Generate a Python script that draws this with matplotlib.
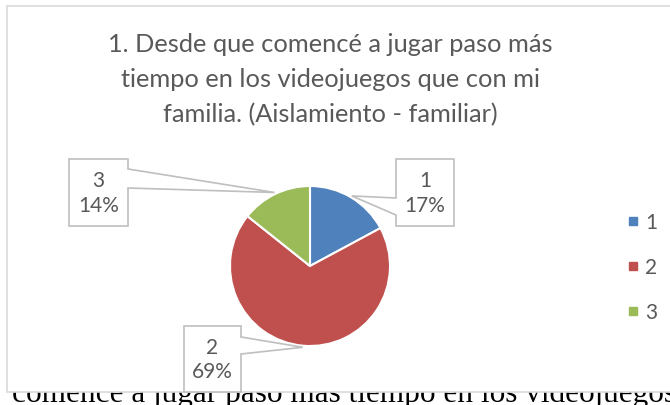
import matplotlib
matplotlib.use("Agg")
import matplotlib.pyplot as plt
import numpy as np
from matplotlib.patches import Rectangle, Polygon
from matplotlib.lines import Line2D

# data
categories = ["1", "2", "3"]
counts = [12, 48, 10]
pct_labels = ["17%", "69%", "14%"]
colors = ["#4F81BD", "#C0504D", "#9BBB59"]

title = ("1. Desde que comencé a jugar paso más\n"
         "tiempo en los videojuegos que con mi\n"
         "familia. (Aislamiento - familiar)")
below_text = "comencé a jugar paso más tiempo en los videojuegos"

W, H = 670, 406
fig = plt.figure(figsize=(W / 100, H / 100), dpi=100)
fig.patch.set_facecolor("white")

# document text sitting under the chart object (cut by the chart, as in the page)
fig.text(12 / W, 1 - 402 / H, below_text, family="Liberation Serif",
         fontsize=22.5, color="black", ha="left", va="baseline", zorder=0)

# chart area
fig.patches.append(Rectangle((7 / W, 1 - 393 / H), 1.2, (393 - 7) / H,
                             transform=fig.transFigure, facecolor="white",
                             edgecolor="#D9D9D9", linewidth=1.2, zorder=1))

fig.text(0.493, 1 - 33 / H, title, family="Lato", fontsize=18.3,
         color="#595959", ha="center", va="top", linespacing=1.62, zorder=3)

# pie axes: 80 px per data unit, centre at (310, 267) px
cx, cy, r_px = 310, 267, 80
ax = fig.add_axes([0, 0, 1, 1], zorder=2)
ax.patch.set_visible(False)
wedges, _ = ax.pie(counts, colors=colors, startangle=90, counterclock=False,
                   radius=1, wedgeprops=dict(edgecolor="white", linewidth=1.5))
ax.set_xlim(-cx / r_px, (W - cx) / r_px)
ax.set_ylim(-(H - cy) / r_px, cy / r_px)
ax.axis("off")

# callout boxes (x0, x1, y_top, y_bot, side, wedge y top, wedge y bottom)
boxes = [
    (1.075, 1.80, 1.3375, 0.50, "left", 0.85, 0.6375),
    (-1.575, -0.8625, -0.75, -1.575, "right", -0.8875, -1.10),
    (-3.0125, -2.275, 1.3375, 0.50, "right", 1.2125, 0.975),
]
cum = np.cumsum([0] + counts) / sum(counts)
for i, (x0, x1, yt, yb, side, wt, wb) in enumerate(boxes):
    mid = np.pi * 2 * (cum[i] + cum[i + 1]) / 2
    tip = (np.sin(mid) * 1.02, np.cos(mid) * 1.02)
    if side == "left":
        pts = [(x0, yt), (x1, yt), (x1, yb), (x0, yb), (x0, wb), tip, (x0, wt)]
    else:
        pts = [(x0, yt), (x1, yt), (x1, wt), tip, (x1, wb), (x1, yb), (x0, yb)]
    ax.add_patch(Polygon(pts, closed=True, facecolor="white",
                         edgecolor="#BFBFBF", linewidth=1.2, zorder=4))
    ax.text((x0 + x1) / 2, (yt + yb) / 2, categories[i] + "\n" + pct_labels[i],
            family="Lato", fontsize=15, color="#595959", ha="center",
            va="center", linespacing=1.3, zorder=5)

handles = [Line2D([], [], marker="s", linestyle="none", markersize=6,
                  markerfacecolor=c, markeredgecolor=c) for c in colors]
fig.legend(handles, categories, loc="center left",
           bbox_to_anchor=(608 / W, 1 - 268 / H), frameon=False,
           prop=dict(family="Lato", size=15), labelcolor="#595959",
           handlelength=0.6, handletextpad=0.3, labelspacing=1.2)

fig.savefig("out.png", dpi=100)
